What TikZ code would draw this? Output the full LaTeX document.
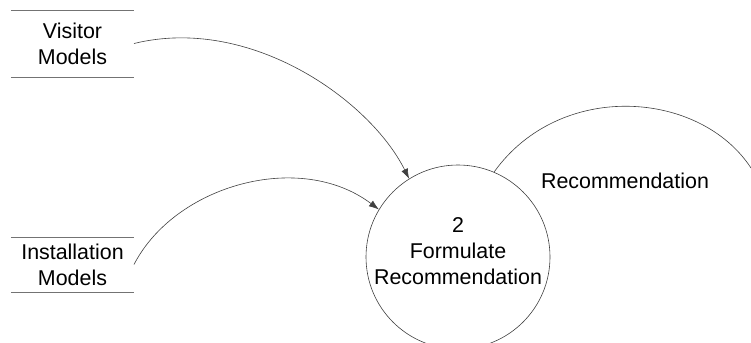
\documentclass[tikz,border=0pt]{standalone}
\usepackage{fontspec}
\setmainfont{Liberation Sans}
\usepackage{tikz}
\usetikzlibrary{calc}
\usetikzlibrary{arrows.meta}
\usetikzlibrary{positioning}
\tikzset{flow/.style={draw=black!75,line width=0.6bp}}

\begin{document}
\begin{tikzpicture}[x=1bp,y=-1bp]
  % some styles
  \tikzset{
    store/.style={
      rectangle,
      minimum width=123bp,
      inner sep=0mm,
      outer sep=0mm,
      align=center,
      font=\fontsize{21.5}{26}\selectfont
    }
  }
  \tikzset{process/.style={circle,draw=black!75,line width=0.6bp,minimum size=184bp,inner sep=0pt}}
  \tikzset{txt/.style={align=center,font=\fontsize{21.5}{26}\selectfont}}
  \tikzset{tip/.style={-{Latex[length=10bp,width=7bp]}}}

\useasboundingbox (0,0) rectangle (751,342);
\clip (0,0) rectangle (751,342);

% data stores
\node[store,minimum height=67bp] (visitor) at (72.5,43.5) {Visitor\\Models};
\node[store,minimum height=55bp] (install) at (72.5,264.5) {Installation\\Models};
\foreach \s in {visitor,install} {
    \draw[black!55,line width=0.6bp] (\s.north west) -- (\s.north east);
    \draw[black!55,line width=0.6bp] (\s.south west) -- (\s.south east);
}

% process
\node[process] (proc) at (458,257) {};
\node[txt] (proctext) at (458,251) {2\\Formulate\\Recommendation};

% flows
\draw[flow,tip] (visitor.east) .. controls (250,15) and (370,100) .. (proc.122);
\draw[flow,tip] (install.east) .. controls (175,185) and (300,150) .. (proc.149);
\coordinate (sink) at (751,168);
\draw[flow] (proc.67) .. controls (560,80) and (700,90) .. (sink);
\node[txt] (reclabel) at (625,181) {Recommendation};

\end{tikzpicture}
\end{document}
